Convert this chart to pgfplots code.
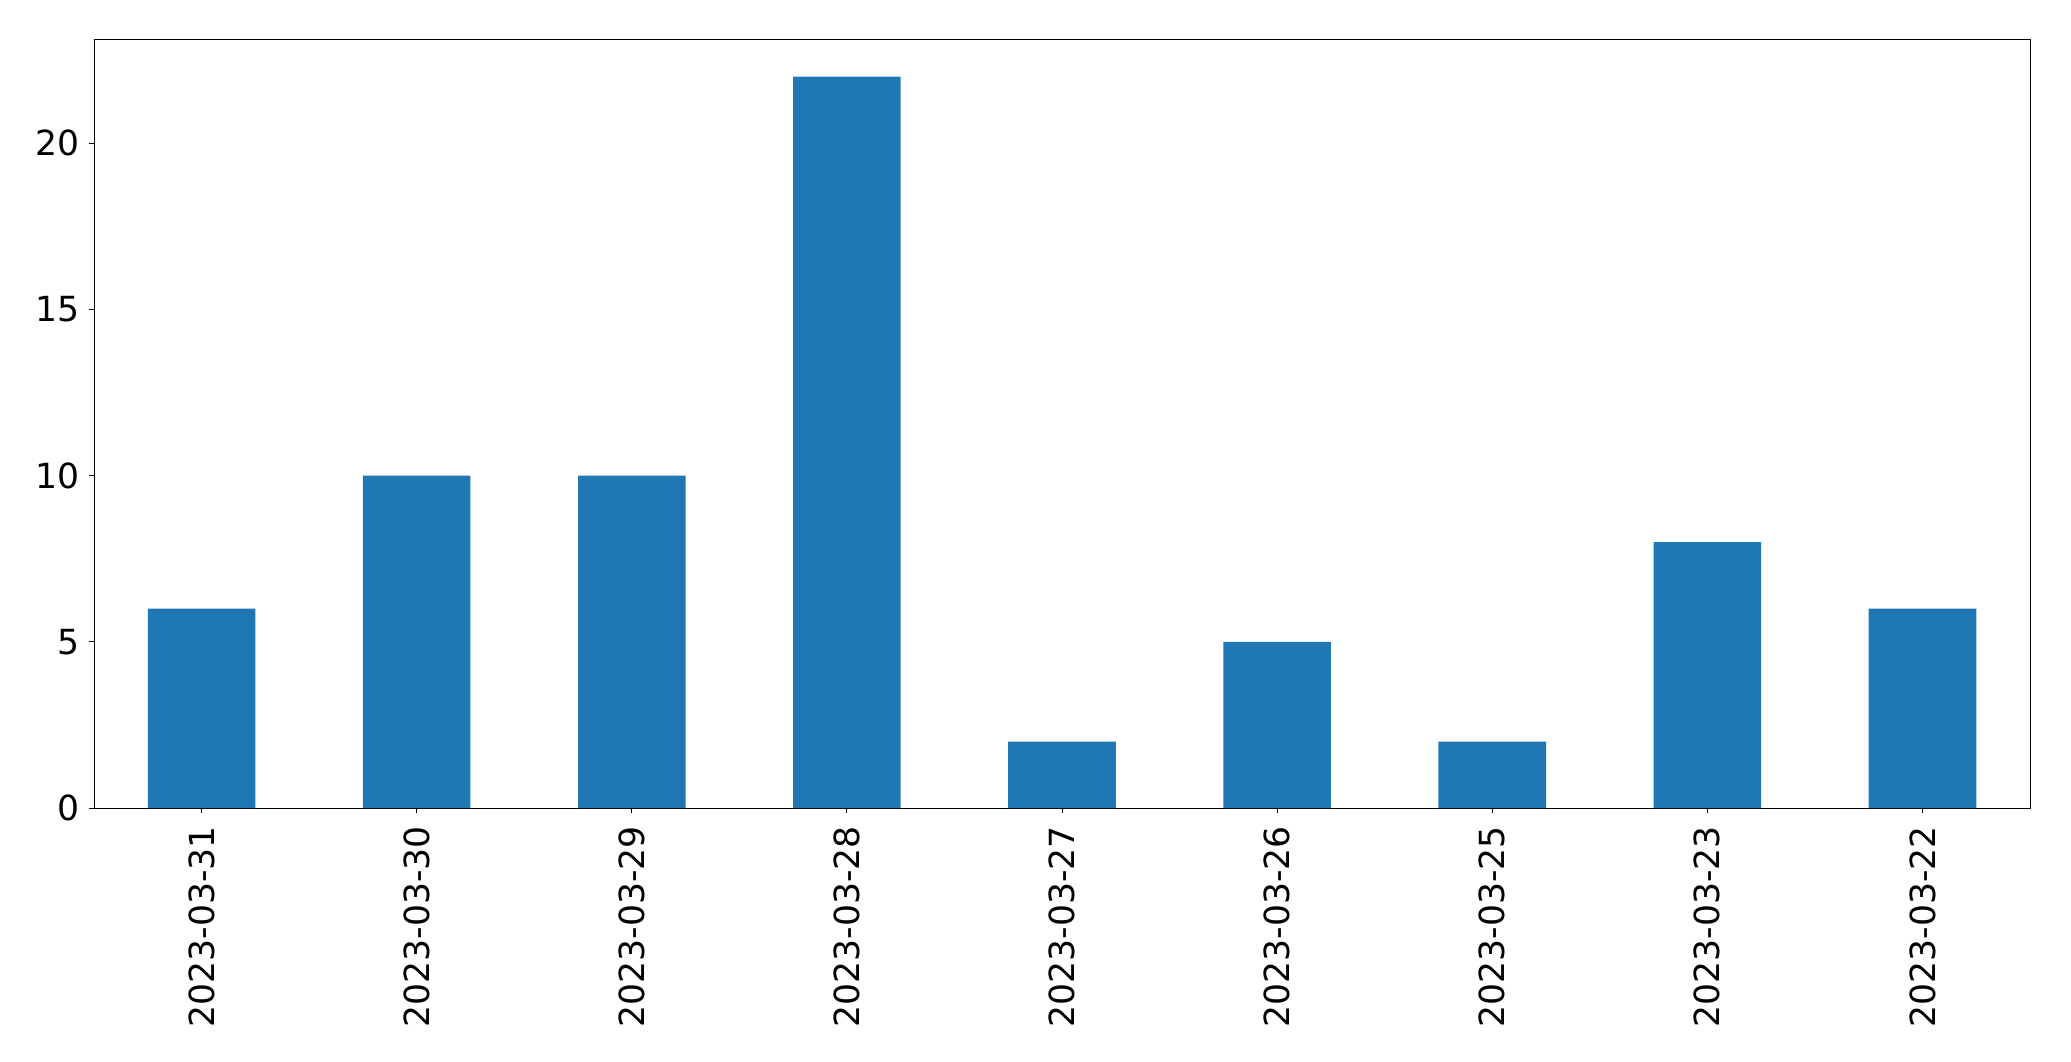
\documentclass[border=0pt]{standalone}
\usepackage{pgfplots}
\pgfplotsset{compat=1.18}
\usepackage{fontspec}
\setmainfont{DejaVu Sans}
\definecolor{mplblue}{HTML}{1F77B4}
\begin{document}
\begin{tikzpicture}
\begin{axis}[
  scale only axis,
  width=968pt, height=384pt,
  xmin=-0.5, xmax=8.5,
  ymin=0, ymax=23.1,
  xtick={0,...,8},
  xticklabels={2023-03-31,2023-03-30,2023-03-29,2023-03-28,2023-03-27,2023-03-26,2023-03-25,2023-03-23,2023-03-22},
  ytick={0,5,10,15,20},
  tick align=outside,
  xtick pos=bottom, ytick pos=left,
  major tick length=2.5pt,
  tick style={black, line width=0.5pt},
  axis line style={line width=0.5pt},
  /pgf/number format/assume math mode=true,
  ticklabel style={font=\fontsize{17.3pt}{20pt}\selectfont},
  xticklabel style={rotate=90, anchor=east, inner sep=0pt, yshift=0pt, xshift=-6.5pt},
  yticklabel style={anchor=east, inner sep=0pt, xshift=-4.5pt},
]
\addplot[ybar, bar width=0.5, fill=mplblue, draw=none] coordinates {
  (0,6) (1,10) (2,10) (3,22) (4,2) (5,5) (6,2) (7,8) (8,6)
};
\end{axis}
\pgfresetboundingbox
\useasboundingbox ([xshift=-47pt,yshift=-126.5pt]current axis.south west) rectangle ([xshift=20.5pt,yshift=20pt]current axis.north east);
\end{tikzpicture}
\end{document}
